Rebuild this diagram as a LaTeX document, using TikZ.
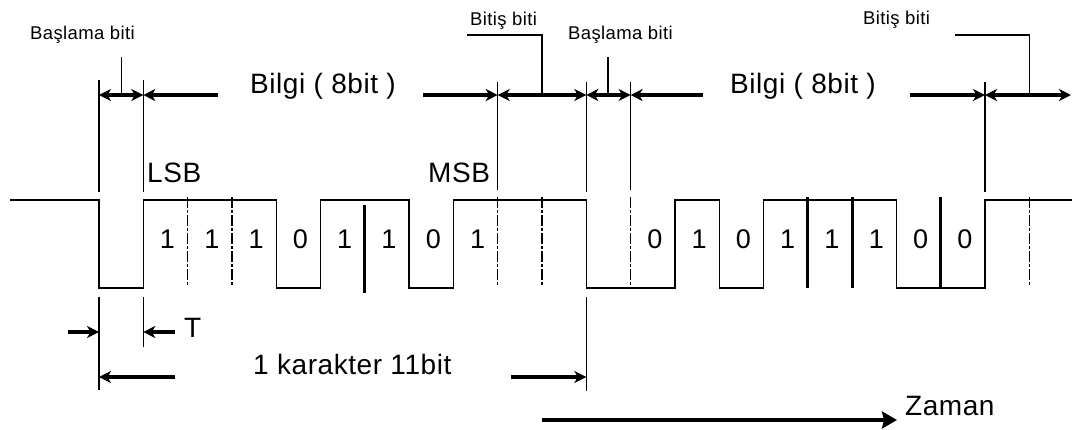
\documentclass[tikz,border=0pt]{standalone}
\usepackage{fontspec}
\setmainfont{Liberation Sans}
\newfontfamily\lblfont[LetterSpace=2]{Liberation Sans}
\usetikzlibrary{arrows.meta}
\begin{document}
\begin{tikzpicture}[x=1pt,y=-1pt,
  wave/.style={line width=1.4pt, line join=miter},
  guide/.style={line width=1.3pt},
  sepline/.style={line width=1.3pt, dash pattern=on 11pt off 2pt on 3pt off 2pt},
  heavysep/.style={line width=3pt},
  tipS/.tip={Stealth[length=12pt,width=12pt,inset=3.5pt]},
  dimto/.style={line width=3.3pt, -tipS},
  dimboth/.style={line width=3.3pt, tipS-tipS},
  bigtxt/.style={font=\lblfont\fontsize{28}{30}\selectfont, inner sep=0pt, anchor=base west},
  smalltxt/.style={font=\lblfont\fontsize{18.5}{20}\selectfont, inner sep=0pt, anchor=base west},
  digit/.style={font=\fontsize{27}{30}\selectfont, inner sep=0pt, anchor=base}]
\useasboundingbox (0,0) rectangle (1072,429);
\fill[white] (0,0) rectangle (1072,429);

% waveform
\draw[wave] (10,200) -- (99,200) -- (99,288) -- (143.3,288) -- (143.3,200)
  -- (276.2,200) -- (276.2,288) -- (320.5,288) -- (320.5,200)
  -- (409.1,200) -- (409.1,288) -- (453.4,288) -- (453.4,200)
  -- (586.3,200) -- (586.3,288) -- (674.9,288) -- (674.9,200)
  -- (719.2,200) -- (719.2,288) -- (763.5,288) -- (763.5,200)
  -- (896.4,200) -- (896.4,288) -- (985,288) -- (985,200) -- (1072,200);

% bit separators
\foreach \x in {187.6,231.9,497.7,542,630.6,1029.3}
  \draw[sepline] (\x,197) -- (\x,286);
\draw[heavysep] (364.8,205) -- (364.8,293);
\foreach \x in {807.8,852.1,940.7}
  \draw[heavysep] (\x,197) -- (\x,288);

% digits
\foreach \x/\d in {165.5/1,209.8/1,254.1/1,298.4/0,342.7/1,386.9/1,431.3/0,475.6/1,
                   652.8/0,697.1/1,741.4/0,785.7/1,830/1,874.3/1,918.6/0,962.9/0}
  \node[digit] at (\x+2,248) {\d};

% boundary guide lines
\draw[guide] (99,80) -- (99,192);
\draw[guide] (143.3,80) -- (143.3,192);
\draw[guide] (497.7,82) -- (497.7,190);
\draw[guide] (586.3,82) -- (586.3,192);
\draw[guide] (630.6,82) -- (630.6,190);
\draw[guide] (985,82) -- (985,192);
\draw[guide] (99,297) -- (99,390);
\draw[guide] (143.3,297) -- (143.3,347);
\draw[guide] (586.3,297) -- (586.3,391);

% leaders
\draw[guide] (121.7,57) -- (121.7,95);
\draw[guide] (608,57) -- (608,95);
\draw[guide] (542,95) -- (542,35) -- (467,35);
\draw[guide] (1029.3,95) -- (1029.3,35) -- (955,35);

% top dimension arrows
\draw[dimboth] (99,95) -- (143.3,95);
\draw[dimto] (218,95) -- (143.3,95);
\draw[dimto] (423,95) -- (497.7,95);
\draw[dimboth] (497.7,95) -- (586.3,95);
\draw[dimboth] (586.3,95) -- (630.6,95);
\draw[dimto] (703,95) -- (630.6,95);
\draw[dimto] (910,95) -- (985,95);
\draw[dimboth] (985,95) -- (1071,95);

% bottom dimension arrows
\draw[dimto] (68,332) -- (99,332);
\draw[dimto] (175,332) -- (143.3,332);
\draw[dimto] (175,377) -- (99,377);
\draw[dimto] (511,377) -- (586.3,377);
\draw[line width=3.3pt, -{Stealth[length=15pt,width=17pt,inset=2pt]}] (542,420) -- (897,420);

% texts
\node[smalltxt] (bas1) at (30,39.3) {Başlama biti};
\node[smalltxt] (bas2) at (568,39) {Başlama biti};
\node[smalltxt] (bit1) at (470,25) {Bitiş biti};
\node[smalltxt] (bit2) at (863,24) {Bitiş biti};
\node[bigtxt] (bilgi1) at (250,93) {Bilgi ( 8bit )};
\node[bigtxt] (bilgi2) at (730,93) {Bilgi ( 8bit )};
\node[bigtxt] (lsb) at (147,182) {LSB};
\node[bigtxt] (msb) at (428,182) {MSB};
\node[bigtxt] (tlbl) at (184,337) {T};
\node[bigtxt] (kar) at (253,374) {1 karakter 11bit};
\node[bigtxt] (zaman) at (905,415) {Zaman};
\end{tikzpicture}
\end{document}
